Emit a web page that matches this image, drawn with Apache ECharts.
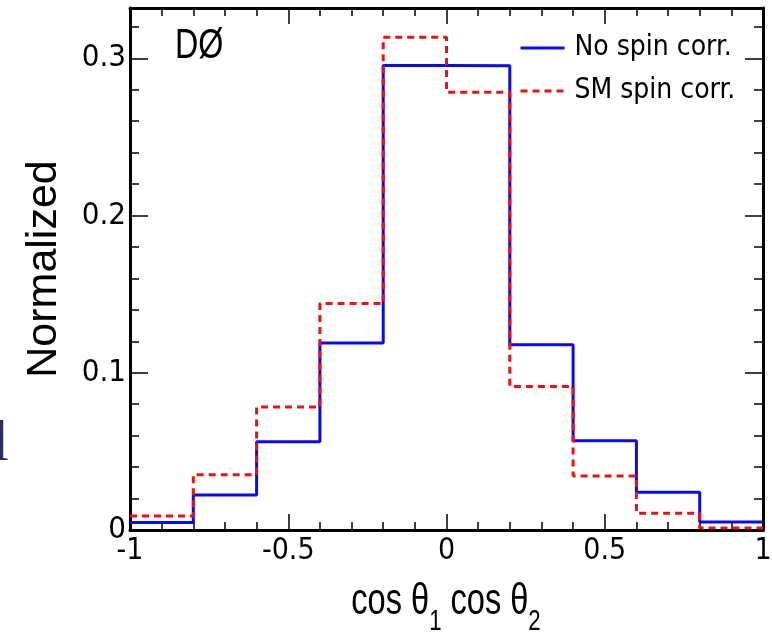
<!DOCTYPE html>
<html>
<head>
<meta charset="utf-8">
<script src="https://cdn.jsdelivr.net/npm/echarts@6/dist/echarts.min.js"></script>
<style>
html,body{margin:0;padding:0;background:#fff;}
#chart{width:772px;height:632px;}
</style>
</head>
<body>
<div id="chart"></div>
<script>
// Bin edges of cos(theta1)cos(theta2)
var binEdges = [-1, -0.8, -0.6, -0.4, -0.2, 0, 0.2, 0.4, 0.6, 0.8, 1];
// Normalized content per bin
var noSpinCorr = [0.0047, 0.0223, 0.0562, 0.1190, 0.2955, 0.2952, 0.1179, 0.0568, 0.0240, 0.0051];
var smSpinCorr = [0.0089, 0.0352, 0.0782, 0.1440, 0.3134, 0.2784, 0.0912, 0.0344, 0.0106, 0.0013];
var seriesNames = ['No spin corr.', 'SM spin corr.'];
var yTickLabels = ['0', '0.1', '0.2', '0.3'];
var xTickLabels = ['-1', '-0.5', '0', '0.5', '1'];

function histPoints(vals) {
  var pts = [];
  for (var i = 0; i < vals.length; i++) pts.push([binEdges[i], vals[i]]);
  pts.push([binEdges[binEdges.length - 1], vals[vals.length - 1]]);
  return pts;
}

var NARROW = '"Liberation Sans Narrow", "DejaVu Sans Condensed", "Liberation Sans", sans-serif';
var SANS = '"Liberation Sans", Arial, sans-serif';
var YMAX = 0.332;

function xAxisDef(pos, labels) {
  return {
    type: 'value', position: pos, min: -1, max: 1, interval: 0.5,
    axisLine: { show: true, onZero: false, lineStyle: { color: '#000', width: 3 } },
    axisTick: { show: true, inside: true, length: 16, lineStyle: { color: '#000', width: 1.5 } },
    minorTick: { show: true, splitNumber: 5, length: 8, lineStyle: { color: '#000', width: 1.5 } },
    splitLine: { show: false }, minorSplitLine: { show: false },
    axisLabel: labels ? {
      show: true, margin: 6, fontSize: 30, fontFamily: NARROW, color: '#000',
      formatter: function (v) {
        var idx = Math.round((v + 1) / 0.5);
        return xTickLabels[idx] !== undefined ? xTickLabels[idx] : '';
      }
    } : { show: false }
  };
}
function yAxisDef(pos, interval, len, labels) {
  return {
    type: 'value', position: pos, min: 0, max: YMAX, interval: interval,
    axisLine: { show: true, onZero: false, lineStyle: { color: '#000', width: 3 } },
    axisTick: { show: true, inside: true, length: len, lineStyle: { color: '#000', width: 1.5 } },
    splitLine: { show: false },
    axisLabel: labels ? {
      show: true, margin: 4, fontSize: 31, fontFamily: NARROW, color: '#000',
      showMaxLabel: false,
      formatter: function (v) {
        var k = Math.round(v * 10);
        if (Math.abs(v * 10 - k) > 1e-6) return '';
        return yTickLabels[k] !== undefined ? yTickLabels[k] : '';
      }
    } : { show: false }
  };
}

var chart = echarts.init(document.getElementById('chart'), null, { renderer: 'canvas' });
var ya0 = yAxisDef('left', 0.1, 18, true);
ya0.name = 'Normalized';
ya0.nameLocation = 'middle';
ya0.nameRotate = 90;
ya0.nameGap = 64;
ya0.nameTextStyle = { fontSize: 43, fontFamily: SANS, color: '#000' };

chart.setOption({
  animation: false,
  backgroundColor: '#fff',
  grid: { left: 130, right: 9, top: 8, bottom: 102, containLabel: false, outerBoundsMode: 'none' },
  xAxis: [xAxisDef('bottom', true), xAxisDef('top', false)],
  yAxis: [ya0, yAxisDef('left', 0.02, 9, false), yAxisDef('right', 0.1, 18, false), yAxisDef('right', 0.02, 9, false)],
  legend: {
    data: seriesNames, orient: 'vertical', left: 519, top: 34, padding: 0,
    itemWidth: 44, itemHeight: 14, itemGap: 15,
    itemStyle: { opacity: 0 },
    lineStyle: { width: 3 },
    textStyle: { fontSize: 28, fontFamily: NARROW, color: '#000', padding: [0, 0, 0, 5] }
  },
  graphic: [
    { type: 'text', x: 175, y: 46, scaleX: 0.75, style: { text: 'DØ', fontSize: 43, fontFamily: SANS, fill: '#000', align: 'left', verticalAlign: 'middle' } },
    { type: 'text', x: 446, y: 602, scaleX: 0.74,
      style: { text: 'cos θ{s|1} cos θ{s|2}', fontSize: 44, fontFamily: SANS, fill: '#000', align: 'center', verticalAlign: 'middle',
        rich: { s: { fontSize: 30, fontFamily: SANS, fill: '#000', padding: [40, 0, 0, 0] } } } },
    { type: 'text', x: -7, y: 474, style: { text: 'l', fontSize: 57, fontFamily: '"Liberation Serif", serif', fill: '#2c2c66', align: 'left', verticalAlign: 'bottom' } }
  ],
  series: [
    { name: seriesNames[0], type: 'line', step: 'end', xAxisIndex: 0, yAxisIndex: 0, symbol: 'none',
      data: histPoints(noSpinCorr), color: '#0a0af0', lineStyle: { color: '#0a0af0', width: 3 }, z: 3 },
    { name: seriesNames[1], type: 'line', step: 'end', xAxisIndex: 0, yAxisIndex: 0, symbol: 'none',
      data: histPoints(smSpinCorr), color: '#f01010', lineStyle: { color: '#f01010', width: 3, type: [7, 5] }, z: 4 }
  ]
});
</script>
</body>
</html>
